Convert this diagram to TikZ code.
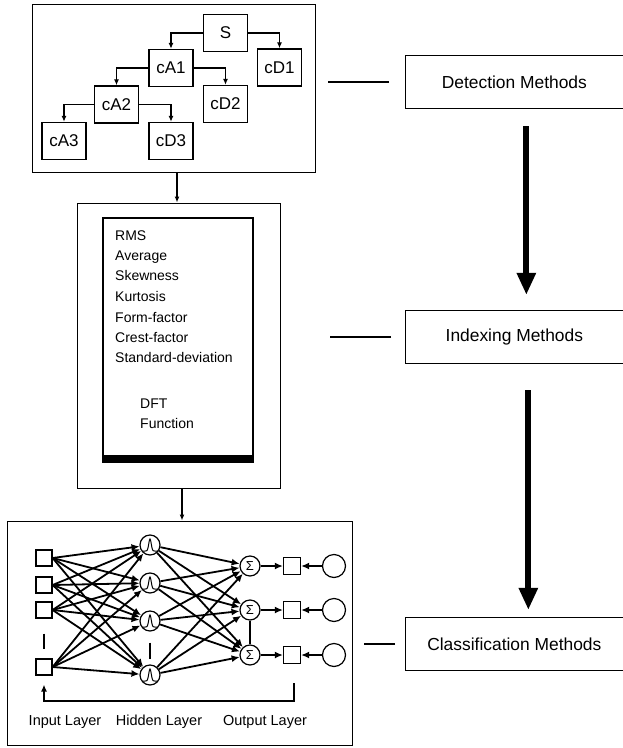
\documentclass[tikz,border=0pt]{standalone}
\usepackage{fontspec}
\setmainfont{Liberation Sans}
\usetikzlibrary{arrows.meta,calc}
\begin{document}
\begin{tikzpicture}[x=1pt,y=-1pt,
  outer/.style={draw,line width=1pt,inner sep=0pt},
  tbox/.style={draw,line width=1.3pt,minimum width=44pt,minimum height=37pt,inner sep=0pt,font=\fontsize{17}{18}\selectfont},
  tarr/.style={line width=1.3pt,-{Latex[length=6pt,width=5pt]}},
  mbox/.style={draw,line width=1.2pt,anchor=west,minimum width=217.5pt,minimum height=53pt,inner sep=0pt,font=\fontsize{17.4}{20}\selectfont},
  bigarr/.style={line width=6pt,-{Triangle[length=22pt,width=18pt]}},
  flink/.style={line width=1.2pt,-{Latex[length=6pt,width=5pt]}},
  feat/.style={anchor=base west,inner sep=0pt,font=\fontsize{14}{16}\selectfont},
  sq/.style={draw,line width=1.2pt,minimum size=16pt,inner sep=0pt},
  osq/.style={draw,line width=1.2pt,minimum size=17pt,inner sep=0pt},
  hc/.style={draw,circle,line width=1.2pt,minimum size=20pt,inner sep=0pt},
  sc/.style={draw,circle,line width=1.2pt,minimum size=20pt,inner sep=0pt,font=\fontsize{13}{13}\selectfont},
  bc/.style={draw,circle,line width=1.2pt,minimum size=23pt,inner sep=0pt},
  nnarr/.style={line width=1.8pt,-{Latex[length=8pt,width=7pt]}},
  lay/.style={font=\fontsize{14.5}{16}\selectfont,inner sep=0pt}]
\useasboundingbox (0,0) rectangle (622,748);
\fill[white] (0,0) rectangle (622,748);

% ---------- box 1 : wavelet tree ----------
\node[outer,minimum width=283pt,minimum height=168pt] (box1) at (173.5,88) {};
\node[tbox] (S) at (225.5,33) {S};
\node[tbox] (cD1) at (279.5,67.5) {cD1};
\node[tbox] (cA1) at (171,68) {cA1};
\node[tbox] (cD2) at (225.5,104) {cD2};
\node[tbox] (cA2) at (116.5,104.5) {cA2};
\node[tbox] (cA3) at (64,141) {cA3};
\node[tbox] (cD3) at (171,141) {cD3};
\draw[tarr] (S.west) -| (cA1.north);
\draw[tarr] (S.east) -| (cD1.north);
\draw[tarr] (cA1.west) -| (cA2.north);
\draw[tarr] (cA1.east) -| (cD2.north);
\draw[tarr] (cA2.west) -| (cA3.north);
\draw[tarr] (cA2.east) -| (cD3.north);

% ---------- box 2 : features ----------
\node[outer,minimum width=203pt,minimum height=285pt] (box2) at (178.5,345.5) {};
\node[draw,line width=1.2pt,minimum width=150pt,minimum height=244pt,inner sep=0pt] (inner) at (178,340) {};
\fill (inner.south west) rectangle ([yshift=8pt]inner.south east);
\node[feat] (f1) at (115,240) {RMS};
\node[feat] (f2) at (115,260) {Average};
\node[feat] (f3) at (115,280) {Skewness};
\node[feat] (f4) at (115,301) {Kurtosis};
\node[feat] (f5) at (115,322) {Form-factor};
\node[feat] (f6) at (115,342) {Crest-factor};
\node[feat] (f7) at (115,362) {Standard-deviation};
\node[feat] (f8) at (140,408) {DFT};
\node[feat] (f9) at (140,428) {Function};

% ---------- box 3 : neural network ----------
\node[outer,minimum width=345pt,minimum height=224pt] (box3) at (179.5,633) {};
\node[sq] (i1) at (44,558) {};
\node[sq] (i2) at (44,585) {};
\node[sq] (i3) at (44,610) {};
\node[sq] (i4) at (44,667) {};
\node[hc] (h1) at (150,545) {};
\node[hc] (h2) at (150,583) {};
\node[hc] (h3) at (150,621) {};
\node[hc] (h4) at (150,675) {};
\node[sc] (s1) at (250,566) {Σ};
\node[sc] (s2) at (250,610) {Σ};
\node[sc] (s3) at (250,655) {Σ};
\node[osq] (o1) at (292,566) {};
\node[osq] (o2) at (292,610) {};
\node[osq] (o3) at (292,655) {};
\node[bc] (c1) at (334,566) {};
\node[bc] (c2) at (334,610) {};
\node[bc] (c3) at (334,655) {};
\foreach \k in {1,...,4}{
  \draw[line width=1pt] plot[domain=-7:7,samples=31,shift={(h\k.center)}] (\x,{6-12*exp(-\x*\x/3)});
}
\foreach \i in {1,...,4}{
  \foreach \j in {1,...,4}{
    \draw[nnarr] (i\i.east) -- (h\j);
  }
  \foreach \j in {1,...,3}{
    \draw[nnarr] (h\i) -- (s\j);
  }
}
\foreach \j in {1,...,3}{
  \draw[nnarr] (s\j) -- (o\j);
  \draw[nnarr] (c\j) -- (o\j);
}
\draw[line width=1.3pt] ([yshift=-15pt]i3.south) -- ([yshift=9pt]i4.north);
\draw[line width=1.3pt] ([yshift=-11pt]h3.south) -- ([yshift=5pt]h4.north);
\draw[line width=1.3pt] (s2) -- (s3);
\coordinate (fb) at (0,701);
\draw[line width=1.3pt,-{Latex[length=7pt,width=6pt]}] ([shift={(2pt,-19pt)}]o3.south) -- ([xshift=2pt]o3.south |- fb) -- (i4.south |- fb) -- ([yshift=-9pt]i4.south);
\node[lay] (l1) at (65,722) {Input Layer};
\node[lay] (l2) at (159,722) {Hidden Layer};
\node[lay] (l3) at (265,722) {Output Layer};

% ---------- vertical links between left boxes ----------
\coordinate (ax1) at (177,0);
\coordinate (ax2) at (182,0);
\draw[flink] (box1.south -| ax1) -- (box2.north -| ax1);
\draw[flink] (box2.south -| ax2) -- (box3.north -| ax2);

% ---------- right column ----------
\node[mbox] (det) at (405,82) {Detection Methods};
\node[mbox] (idx) at (405,337) {Indexing Methods};
\node[mbox] (cls) at (405,644) {Classification Methods};
\draw[line width=1.2pt] ([xshift=-16pt]det.west) -- ([xshift=-77pt]det.west);
\draw[line width=1.2pt] ([xshift=-14pt]idx.west) -- ([xshift=-75pt]idx.west);
\draw[line width=1.2pt] ([xshift=-10pt]cls.west) -- ([xshift=-41pt]cls.west);
\draw[bigarr] ([shift={(12,17)}]det.south) -- ([shift={(12,-15)}]idx.north);
\draw[bigarr] ([shift={(14,26)}]idx.south) -- ([shift={(14,-7)}]cls.north);
\end{tikzpicture}
\end{document}
